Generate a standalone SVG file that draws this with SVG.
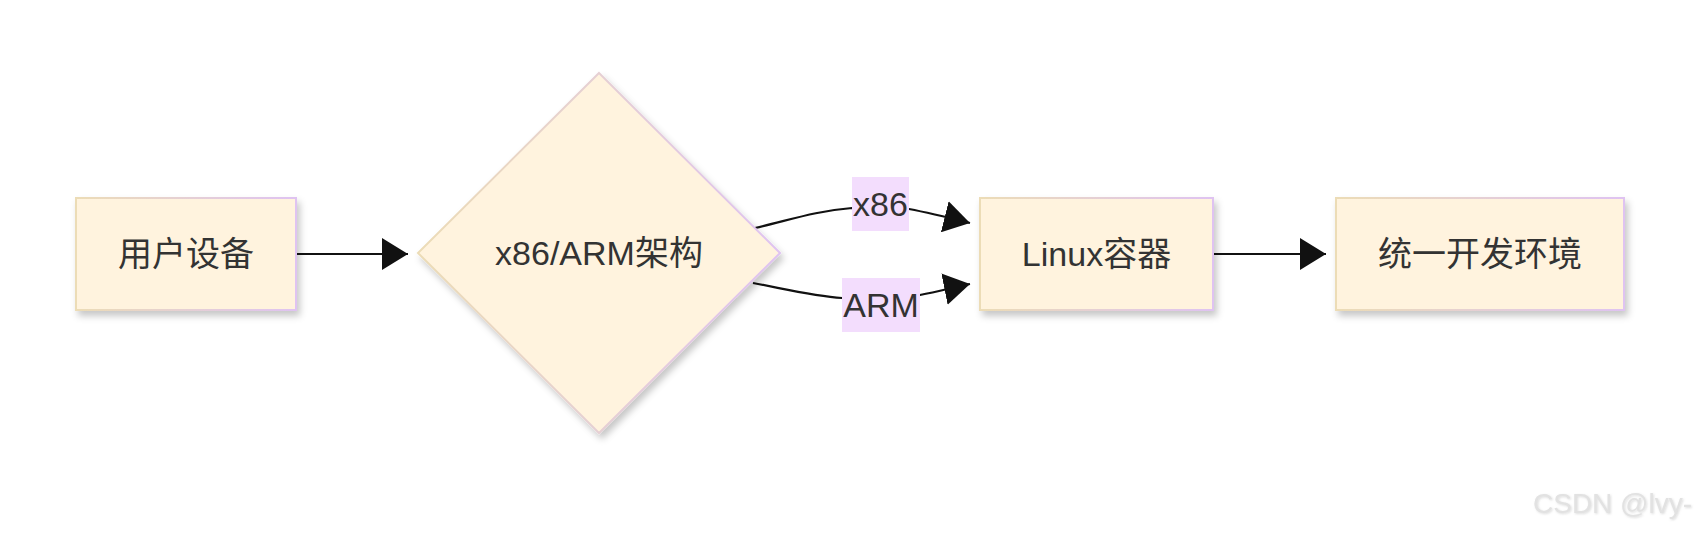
<svg xmlns="http://www.w3.org/2000/svg" width="1703" height="536" viewBox="0 0 1703 536">
<defs>
<style>
.node{fill:#fff3de;stroke:url(#bd);stroke-width:2;filter:url(#sh);}
.lbl{font-family:"Liberation Sans","Noto Sans CJK SC",sans-serif;font-size:34px;fill:#333;text-anchor:middle;dominant-baseline:central;}
.edge{fill:none;stroke:#111;stroke-width:2.2;marker-end:url(#ah);}
.elbg{fill:#f3ddfd;}
.wm{font-family:"Liberation Sans","Noto Sans CJK SC",sans-serif;font-size:28px;fill:#e2e2e2;}
</style>
<linearGradient id="bd" x1="0" y1="0" x2="1" y2="0">
<stop offset="0" stop-color="#ecdcb6"/>
<stop offset="1" stop-color="#dfc3f1"/>
</linearGradient>
<filter id="sh" x="-20%" y="-20%" width="140%" height="150%">
<feDropShadow dx="3" dy="5" stdDeviation="3.5" flood-color="#000" flood-opacity="0.22"/>
</filter>
<filter id="ws" x="-10%" y="-30%" width="120%" height="160%">
<feDropShadow dx="1" dy="1" stdDeviation="1" flood-color="#aaa" flood-opacity="0.4"/>
</filter>
<marker id="ah" markerUnits="userSpaceOnUse" markerWidth="27" markerHeight="32" refX="26" refY="16" orient="auto">
<path d="M0,0 L26,16 L0,32 z" fill="#111"/>
</marker>
</defs>
<rect width="1703" height="536" fill="#fff"/>
<g id="connectors">
<path class="edge" d="M296,254 C330,254 360,254 408,254"/>
<path class="edge" d="M755,228 C790,220 815,211 852,208 L909,209 C930,213 950,218 970,223"/>
<path class="edge" d="M753,283 C790,290 815,296 842,298 L920,295 C940,291 955,287 970,284"/>
<path class="edge" d="M1214,254 L1326,254"/>
<rect class="elbg" x="852" y="177" width="57" height="54"/>
<text class="lbl" x="880.5" y="204">x86</text>
<rect class="elbg" x="842" y="278" width="78" height="54"/>
<text class="lbl" x="881" y="305">ARM</text>
</g>
<g id="node-user">
<rect class="node" x="76" y="198" width="220" height="112"/>
<text class="lbl" x="186" y="254">用户设备</text>
</g>
<g id="node-arch">
<polygon class="node" points="599,73 780,253 599,433 418,253"/>
<text class="lbl" x="599" y="253">x86/ARM架构</text>
</g>
<g id="node-linux">
<rect class="node" x="980" y="198" width="233" height="112"/>
<text class="lbl" x="1096.5" y="254">Linux容器</text>
</g>
<g id="node-env">
<rect class="node" x="1336" y="198" width="288" height="112"/>
<text class="lbl" x="1480" y="254">统一开发环境</text>
</g>
<text class="wm" x="1533" y="513" filter="url(#ws)">CSDN @lvy-</text>
</svg>
